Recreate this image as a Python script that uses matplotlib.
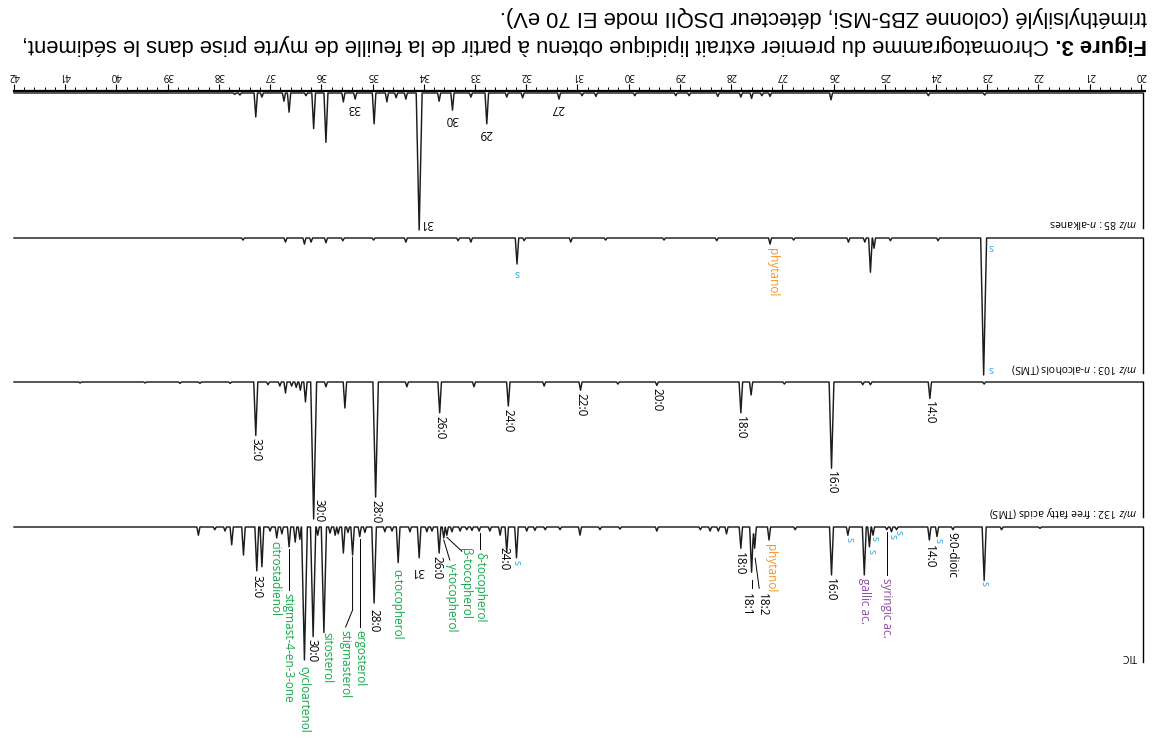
import numpy as np
import matplotlib
matplotlib.use("Agg")
import matplotlib.pyplot as plt
from matplotlib.ticker import MultipleLocator, FormatStrFormatter
from matplotlib import font_manager

# ---------------- data (retention time in min, intensity in % of panel full scale) ----------------
alk_t = [37.69, 37.59, 37.28, 37.16, 36.73, 36.63, 36.30, 36.15, 35.91, 35.57,
         35.34, 34.97, 34.72, 34.54, 34.35, 34.09, 33.70, 33.44, 33.08, 32.77,
         32.38, 32.07, 31.36, 30.91, 30.64, 29.88, 29.08, 28.82, 28.26, 27.81,
         27.60, 27.40, 27.24, 26.05, 24.15, 23.05]
alk_i = [1, 1.5, 17.5, 3, 6, 14, 2, 26, 36, 6.5,
         4.5, 22.5, 6.5, 3.5, 4.5, 100, 6, 12.5, 3, 22.5,
         3, 3.5, 4.5, 2, 2.5, 2, 2, 2, 2.5, 3,
         4, 2, 2.5, 5, 2, 1.5]
alk_labels = ["27", "29", "30", "31", "33"]
alk_label_t = [31.36, 32.77, 33.44, 34.09, 35.34]

alc_t = [37.53, 36.70, 36.33, 36.20, 35.91, 35.58, 34.98, 34.35, 33.33, 33.08,
         32.18, 32.04, 31.13, 30.45, 29.31, 28.28, 27.24, 26.78, 25.71, 25.39,
         25.28, 25.21, 24.89, 23.96, 23.07]
alc_i = [1.5, 3, 4.5, 3, 3.5, 2, 1.5, 3, 2, 3,
         19, 2, 3, 1.5, 1.5, 2, 4.5, 1.5, 3, 3,
         25, 7.5, 2, 2, 100]

ffa_t = [40.71, 39.44, 38.76, 38.37, 37.78, 37.28, 37.04, 36.81, 36.70, 36.58,
         36.49, 36.41, 36.31, 36.15, 35.91, 35.54, 34.94, 34.33, 33.69, 33.02,
         32.35, 31.65, 30.94, 30.21, 29.45, 27.81, 27.61, 26.96, 26.04, 25.43,
         25.28, 24.12, 23.06]
ffa_i = [0.7, 0.7, 1, 1, 1, 39, 2, 3, 8, 3,
         4, 6, 14.5, 100, 3.5, 19, 84, 3.5, 22.5, 3.5,
         17.5, 3, 6, 1.5, 2.5, 22.5, 9.5, 1.5, 63, 2,
         2, 12, 1.5]
ffa_labels = ["32:0", "30:0", "28:0", "26:0", "24:0", "22:0", "20:0", "18:0", "16:0", "14:0"]
ffa_label_t = [37.28, 36.15, 34.94, 33.69, 32.35, 30.94, 29.45, 27.81, 26.04, 24.12]

tic_t = [38.40, 38.08, 37.88, 37.75, 37.52, 37.26, 37.16, 37.00, 36.87, 36.77,
         36.63, 36.51, 36.42, 36.33, 36.16, 36.07, 35.95, 35.83, 35.73, 35.67,
         35.57, 35.48, 35.39, 35.25, 35.15, 34.97, 34.76, 34.62, 34.50, 34.27,
         34.09, 33.94, 33.84, 33.70, 33.61, 33.55, 33.45, 33.29, 33.16, 33.06,
         32.92, 32.71, 32.51, 32.38, 32.19, 31.99, 31.83, 31.63, 31.34, 30.95,
         30.56, 30.17, 29.45, 28.60, 28.41, 28.25, 28.09, 27.81, 27.60, 27.54,
         27.26, 26.75, 26.04, 25.72, 25.40, 25.30, 25.23, 24.96, 24.87, 24.77,
         24.13, 23.98, 23.67, 23.06, 22.72, 21.97]
tic_i = [6, 2, 3, 13, 20.5, 32, 29, 3, 8, 5,
         14.5, 11, 9, 97, 80, 6, 77, 4.5, 6, 5,
         19, 4, 20.5, 7, 4, 55.5, 3.5, 3, 26, 3.5,
         22.5, 3.5, 3, 19, 8, 6, 3.5, 3, 2, 2.5,
         3, 3, 6, 18, 22.5, 3, 2.5, 2, 2, 6,
         2, 1.5, 3, 2, 3, 3, 5, 15.5, 33, 15.5,
         9.5, 2, 35, 6, 35, 14.5, 6, 2, 3.5, 2,
         9.5, 7, 2, 39, 2, 1]

panel_names = [r"$m/z$ 85 : $n$-alkanes", r"$m/z$ 103 : $n$-alcohols (TMS)",
               r"$m/z$ 132 : free fatty acids (TMS)", "TIC"]

caption_bold = "Figure 3."
caption_line1 = " Chromatogramme du premier extrait lipidique obtenu à partir de la feuille de myrte prise dans le sédiment,"
caption_line2 = "triméthylsilylé (colonne ZB5-MSi, détecteur DSQII mode EI 70 eV)."

# ---------------- style ----------------
GREEN = "#12a84a"
ORANGE = "#f7941d"
PURPLE = "#8f4aa3"
CYAN = "#27aae1"
TRACE = "#1c1c1c"

names = {f.name for f in font_manager.fontManager.ttflist}
LABEL_FONT = "Open Sans" if "Open Sans" in names else "DejaVu Sans"
CAP_FONT = "Liberation Sans Narrow" if "Liberation Sans Narrow" in names else "Liberation Sans"

plt.rcParams["font.family"] = [LABEL_FONT, "DejaVu Sans"]
plt.rcParams["mathtext.fontset"] = "custom"
plt.rcParams["mathtext.rm"] = LABEL_FONT
plt.rcParams["mathtext.it"] = LABEL_FONT + ":italic"

W, H = 1153, 741
AX_L, AX_R, AX_TOP = 14, 1145, 91
T_MAX, T_MIN = 42.0, 19.92
PPM = (AX_R - AX_L) / (T_MAX - T_MIN)       # pixels per minute
SCALE = 1.37                                  # px per % intensity
BASES = [2, 147, 291, 436]                    # px below the time axis
T_END = 19.96
LFS = 8.5

fig = plt.figure(figsize=(W / 100, H / 100), dpi=100)
ax = fig.add_axes([AX_L / W, 0, (AX_R - AX_L) / W, (H - AX_TOP) / H])
ax.set_xlim(T_MAX, T_MIN)
ax.set_ylim(H - AX_TOP, 0)

for s in ["left", "right", "bottom"]:
    ax.spines[s].set_visible(False)
ax.spines["top"].set_linewidth(1.6)
ax.set_yticks([])
ax.xaxis.set_ticks_position("top")
ax.xaxis.set_major_locator(MultipleLocator(1))
ax.xaxis.set_minor_locator(MultipleLocator(0.2))
ax.xaxis.set_major_formatter(FormatStrFormatter("%d"))
ax.tick_params(axis="x", which="major", direction="out", length=5, width=0.8,
               labelsize=7, labelrotation=180, pad=2.5, top=True, bottom=False,
               labeltop=True, labelbottom=False)
ax.tick_params(axis="x", which="minor", direction="out", length=3, width=0.7,
               top=True, bottom=False)


def build_trace(ts, Is):
    ts = np.asarray(ts, float)
    Is = np.asarray(Is, float)
    w = 0.028 + 0.0003 * Is
    knots = np.unique(np.concatenate([[T_END, T_MAX], ts - w, ts, ts + w]))
    y = np.zeros_like(knots)
    for t, h, ww in zip(ts, Is, w):
        y += h * np.clip(1 - np.abs(knots - t) / ww, 0, None)
    return knots, y


def draw_panel(base, ts, Is, name):
    x, y = build_trace(ts, Is)
    ax.plot(x, base + y * SCALE, color=TRACE, lw=1.05, clip_on=False, zorder=3)
    ax.plot([T_END, T_END], [base, base + 135], color="k", lw=1.0, clip_on=False)
    ax.text(T_END + 6 / PPM, base + 130, name, rotation=180, ha="right", va="center",
            fontsize=7.5, color="k")


def tip(base, ts, Is, t):
    i = int(np.argmin(np.abs(np.asarray(ts) - t)))
    return ts[i], base + Is[i] * SCALE


def plabel(base, ts, Is, t, text, color="k", rot=270, dx=0, dy=4, va="top",
           ha="center", leader=None, fs=LFS):
    tp, yt = tip(base, ts, Is, t)
    ax.text(tp - dx / PPM, yt + dy, text, rotation=rot, ha=ha, va=va, color=color,
            fontsize=fs, clip_on=False, zorder=4)
    if leader:
        xs = [tp - p[0] / PPM for p in leader]
        ys = [yt + p[1] for p in leader]
        ax.plot(xs, ys, color="k", lw=0.7, clip_on=False)


# panel 1: n-alkanes
b = BASES[0]
draw_panel(b, alk_t, alk_i, panel_names[0])
for lab, t in zip(alk_labels, alk_label_t):
    if lab == "31":
        plabel(b, alk_t, alk_i, t, lab, rot=180, dx=7.5, dy=-7, va="center")
    else:
        plabel(b, alk_t, alk_i, t, lab, rot=180, dx=-1, dy=3, va="top")

# panel 2: n-alcohols
b = BASES[1]
draw_panel(b, alc_t, alc_i, panel_names[1])
plabel(b, alc_t, alc_i, 32.18, "s", color=CYAN, rot=180, dy=3, fs=7.5)
plabel(b, alc_t, alc_i, 27.24, "phytanol", color=ORANGE, dx=2, dy=4)
plabel(b, alc_t, alc_i, 23.07, "s", color=CYAN, rot=180, dx=7, dy=-128, va="center", fs=7.5)
plabel(b, alc_t, alc_i, 23.07, "s", color=CYAN, rot=180, dx=7, dy=-6, va="center", fs=7.5)

# panel 3: free fatty acids
b = BASES[2]
draw_panel(b, ffa_t, ffa_i, panel_names[2])
for lab, t in zip(ffa_labels, ffa_label_t):
    if lab == "30:0":
        plabel(b, ffa_t, ffa_i, t, lab, dx=5.5, dy=-20)
    else:
        plabel(b, ffa_t, ffa_i, t, lab, dy=3)

# panel 4: TIC
b = BASES[3]
draw_panel(b, tic_t, tic_i, panel_names[3])
T = (b, tic_t, tic_i)
plabel(*T, 37.26, "32:0", dy=4)
plabel(*T, 36.87, "citrostadienol", color=GREEN, dx=-2, dy=3)
plabel(*T, 36.63, "stigmast-4-en-3-one", color=GREEN, dx=-1, dy=46, leader=[(0, 2), (0, 43)])
plabel(*T, 36.33, "cycloartenol", color=GREEN, dx=-1, dy=6)
plabel(*T, 36.16, "30:0", dx=-1.5, dy=2)
plabel(*T, 35.95, "sitosterol", color=GREEN, dx=3, dy=0)
plabel(*T, 35.39, "stigmasterol", color=GREEN, dx=-8, dy=75,
       leader=[(0, 2), (0, 55), (-7, 72)])
plabel(*T, 35.25, "ergosterol", color=GREEN, dy=93, leader=[(0, 2), (0, 90)])
plabel(*T, 34.97, "28:0", dy=6)
plabel(*T, 34.50, "α-tocopherol", color=GREEN, dx=-1.5, dy=6)
plabel(*T, 34.09, "31", rot=180, dx=-1, dy=14, va="center")
plabel(*T, 33.70, "26:0", dx=-2, dy=3)
plabel(*T, 33.61, "γ-tocopherol", color=GREEN, dx=8, dy=25, leader=[(0, 2), (6, 22)])
plabel(*T, 33.55, "β-tocopherol", color=GREEN, dx=18.5, dy=13, leader=[(0, 2), (15, 16)])
plabel(*T, 32.92, "δ-tocopherol", color=GREEN, dx=1, dy=21, leader=[(1, 2), (1, 18)])
plabel(*T, 32.38, "24:0", dx=-3, dy=-5)
plabel(*T, 32.19, "s", color=CYAN, dy=2, fs=7.5)
plabel(*T, 27.81, "18:0", dx=-1, dy=4)
plabel(*T, 27.60, "18:1", dx=-5, dy=21, leader=[(0, 8), (0, 16)])
plabel(*T, 27.54, "18:2", dx=7.5, dy=45, leader=[(0.5, 10), (4.5, 40)])
plabel(*T, 27.26, "phytanol", color=ORANGE, dx=1, dy=4)
plabel(*T, 26.04, "16:0", dx=-1, dy=3)
plabel(*T, 25.72, "s", color=CYAN, dx=1, dy=2, fs=7.5)
plabel(*T, 25.40, "gallic ac.", color=PURPLE, dy=3)
plabel(*T, 25.30, "s", color=CYAN, dx=1.7, dy=2, fs=7.5)
plabel(*T, 25.23, "s", color=CYAN, dx=1, dy=1, fs=7.5)
plabel(*T, 24.96, "syringic ac.", color=PURPLE, dy=48, leader=[(0, 2), (0, 45)])
plabel(*T, 24.87, "s", color=CYAN, dx=0.5, dy=2, fs=7.5)
plabel(*T, 24.77, "s", color=CYAN, dx=1.3, dy=0, fs=7.5)
plabel(*T, 24.13, "14:0", dy=5)
plabel(*T, 23.98, "s", color=CYAN, dx=0.7, dy=1, fs=7.5)
plabel(*T, 23.67, "9:0-dioic", dx=-1, dy=2)
plabel(*T, 23.06, "s", color=CYAN, dy=1, fs=7.5)

# ---------------- caption (figure is shown rotated by 180 degrees) ----------------
fig.canvas.draw()
r = fig.canvas.get_renderer()
cap_fs = 14.0
kw = dict(rotation=180, rotation_mode="anchor", ha="left", va="baseline",
          family=[CAP_FONT, "DejaVu Sans"])
tb = fig.text(1147 / W, 1 - 38.5 / H, caption_bold, fontweight="bold", fontsize=cap_fs, **kw)
wb = tb.get_window_extent(r).width
t1 = fig.text(1147 / W, 1 - 38.5 / H, caption_line1, fontsize=cap_fs, **kw)
w1 = t1.get_window_extent(r).width
f = 1135.0 / (wb + w1)
cap_fs *= f
tb.set_fontsize(cap_fs)
t1.set_fontsize(cap_fs)
fig.canvas.draw()
wb = tb.get_window_extent(r).width
t1.set_position(((1147 - wb) / W, 1 - 38.5 / H))
fig.text(1147 / W, 1 - 11.5 / H, caption_line2, fontsize=cap_fs, **kw)

fig.savefig("out.png", dpi=100)
